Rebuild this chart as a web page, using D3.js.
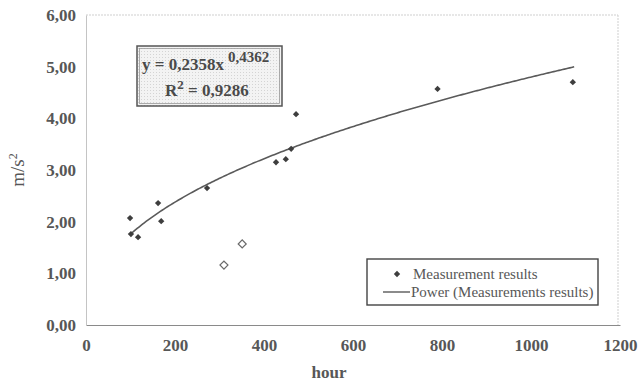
<!DOCTYPE html>
<html>
<head>
<meta charset="utf-8">
<script src="https://cdn.jsdelivr.net/npm/d3@7"></script>
<style>
  body { margin: 0; background: #fff; }
  svg { display: block; }
  svg text { font-family: "Liberation Serif", serif; }
</style>
</head>
<body>
<script>
// Measured points (hour, m/s^2)
const hours = [99, 101, 117, 162, 169, 272, 427, 449, 461, 472, 790, 1094];
const accel = [2.07, 1.76, 1.70, 2.36, 2.01, 2.65, 3.15, 3.21, 3.41, 4.08, 4.57, 4.70];

// Points left out of the fit (hollow markers)
const outlierHours = [310, 351];
const outlierAccel = [1.16, 1.57];

// Power trendline as printed on the chart
const fitA = 0.2358;
const fitB = 0.4362;
const fitRange = [99, 1097];

const xTicks = [0, 200, 400, 600, 800, 1000, 1200];
const yTicks = [0, 1, 2, 3, 4, 5, 6];

const width = 641, height = 385;
const margin = { top: 15, right: 21, bottom: 60, left: 86 };
const grey = "#575757";
const font = "Liberation Serif";

const svg = d3.select("body").append("svg")
    .attr("width", width)
    .attr("height", height);

const x = d3.scaleLinear().domain([0, 1200]).range([margin.left, width - margin.right]);
const y = d3.scaleLinear().domain([0, 6]).range([height - margin.bottom, margin.top]);

// dotted pattern for the equation box
const defs = svg.append("defs");
const pat = defs.append("pattern")
    .attr("id", "dots")
    .attr("width", 3).attr("height", 3)
    .attr("patternUnits", "userSpaceOnUse");
pat.append("rect").attr("width", 3).attr("height", 3).attr("fill", "#f3f3f3");
pat.append("rect").attr("width", 1).attr("height", 1).attr("fill", "#d4d4d4");

// plot frame: light dotted top and right, solid left and bottom
svg.append("line")
    .attr("x1", x(0)).attr("x2", x(1200) - 2)
    .attr("y1", y(6)).attr("y2", y(6))
    .attr("stroke", "#cfcfcf").attr("stroke-dasharray", "2,1");
svg.append("line")
    .attr("x1", x(1200) - 2).attr("x2", x(1200) - 2)
    .attr("y1", y(6)).attr("y2", y(0))
    .attr("stroke", "#cfcfcf").attr("stroke-dasharray", "2,1");

const xAxis = svg.append("g")
    .attr("transform", `translate(0,${y(0)})`)
    .call(d3.axisBottom(x).tickValues(xTicks).tickSize(0).tickPadding(14).tickFormat(d3.format("d")))
    .attr("font-family", font);
xAxis.select(".domain").attr("stroke", "#8a8a8a").attr("stroke-width", 1.2);
xAxis.selectAll("text")
    .attr("fill", grey)
    .attr("font-family", font)
    .attr("font-size", 17)
    .attr("font-weight", "bold");

const yAxis = svg.append("g")
    .attr("transform", `translate(${x(0)},0)`)
    .call(d3.axisLeft(y).tickValues(yTicks).tickSize(0).tickPadding(10)
        .tickFormat(d => d3.format(".2f")(d).replace(".", ",")))
    .attr("font-family", font);
yAxis.select(".domain").attr("stroke", "#c4c4c4");
yAxis.selectAll("text")
    .attr("fill", grey)
    .attr("font-family", font)
    .attr("font-size", 17)
    .attr("font-weight", "bold");

// axis titles
svg.append("text")
    .attr("x", x(600) - 24).attr("y", 378)
    .attr("text-anchor", "middle")
    .attr("fill", grey)
    .attr("font-family", font).attr("font-size", 17).attr("font-weight", "bold")
    .text("hour");

const yTitle = svg.append("text")
    .attr("transform", "translate(24,170) rotate(-90)")
    .attr("text-anchor", "middle")
    .attr("fill", grey)
    .attr("font-family", font).attr("font-size", 19);
yTitle.append("tspan").text("m/s");
yTitle.append("tspan").attr("dy", -7).attr("font-size", 12).text("2");

// trendline
const fitData = d3.range(fitRange[0], fitRange[1] + 1, 4).concat([fitRange[1]])
    .map(h => [h, fitA * Math.pow(h, fitB)]);
svg.append("path")
    .datum(fitData)
    .attr("fill", "none")
    .attr("stroke", "#5a5a5a")
    .attr("stroke-width", 1.6)
    .attr("d", d3.line().x(d => x(d[0])).y(d => y(d[1])));

// markers
const diamond = d3.symbol().type(d3.symbolSquare);
svg.append("g").selectAll("path")
    .data(d3.zip(hours, accel))
    .join("path")
    .attr("d", diamond.size(20))
    .attr("transform", d => `translate(${x(d[0])},${y(d[1])}) rotate(45)`)
    .attr("fill", "#3e3e3e");

svg.append("g").selectAll("path")
    .data(d3.zip(outlierHours, outlierAccel))
    .join("path")
    .attr("d", d3.symbol().type(d3.symbolSquare).size(32))
    .attr("transform", d => `translate(${x(d[0])},${y(d[1])}) rotate(45)`)
    .attr("fill", "#fff")
    .attr("stroke", "#6a6a6a")
    .attr("stroke-width", 1.2);

// equation box
const eq = svg.append("g");
eq.append("rect")
    .attr("x", 137).attr("y", 46).attr("width", 145).attr("height", 60)
    .attr("fill", "url(#dots)")
    .attr("stroke", "#555").attr("stroke-width", 1.5);
eq.append("rect")
    .attr("x", 139.5).attr("y", 48.5).attr("width", 140).attr("height", 55)
    .attr("fill", "none")
    .attr("stroke", "#999").attr("stroke-width", 0.8);
const eqText = eq.append("text")
    .attr("fill", "#4a4a4a")
    .attr("font-family", font).attr("font-size", 17).attr("font-weight", "bold");
const l1 = eqText.append("tspan").attr("x", 142).attr("y", 70);
l1.append("tspan").text(`y = ${String(fitA).replace(".", ",")}x`);
l1.append("tspan").attr("dx", 4).attr("dy", -8).attr("font-size", 15).text(String(fitB).replace(".", ","));
const l2 = eqText.append("tspan").attr("x", 165).attr("y", 96);
l2.append("tspan").text("R");
l2.append("tspan").attr("dy", -7).attr("font-size", 13).text("2");
l2.append("tspan").attr("dy", 7).text(" = 0,9286");

// legend
const lg = svg.append("g");
lg.append("rect")
    .attr("x", 367).attr("y", 259).attr("width", 231).attr("height", 46)
    .attr("fill", "#fff")
    .attr("stroke", "#444").attr("stroke-width", 1.4);
lg.append("path")
    .attr("d", diamond.size(20))
    .attr("transform", "translate(397,274) rotate(45)")
    .attr("fill", "#3e3e3e");
lg.append("line")
    .attr("x1", 383).attr("x2", 410).attr("y1", 292).attr("y2", 292)
    .attr("stroke", "#5a5a5a").attr("stroke-width", 1.4);
lg.append("text")
    .attr("x", 413).attr("y", 279)
    .attr("fill", grey)
    .attr("font-family", font).attr("font-size", 15)
    .text("Measurement results");
lg.append("text")
    .attr("x", 411).attr("y", 297)
    .attr("fill", grey)
    .attr("font-family", font).attr("font-size", 15)
    .text("Power (Measurements results)");
</script>
</body>
</html>
